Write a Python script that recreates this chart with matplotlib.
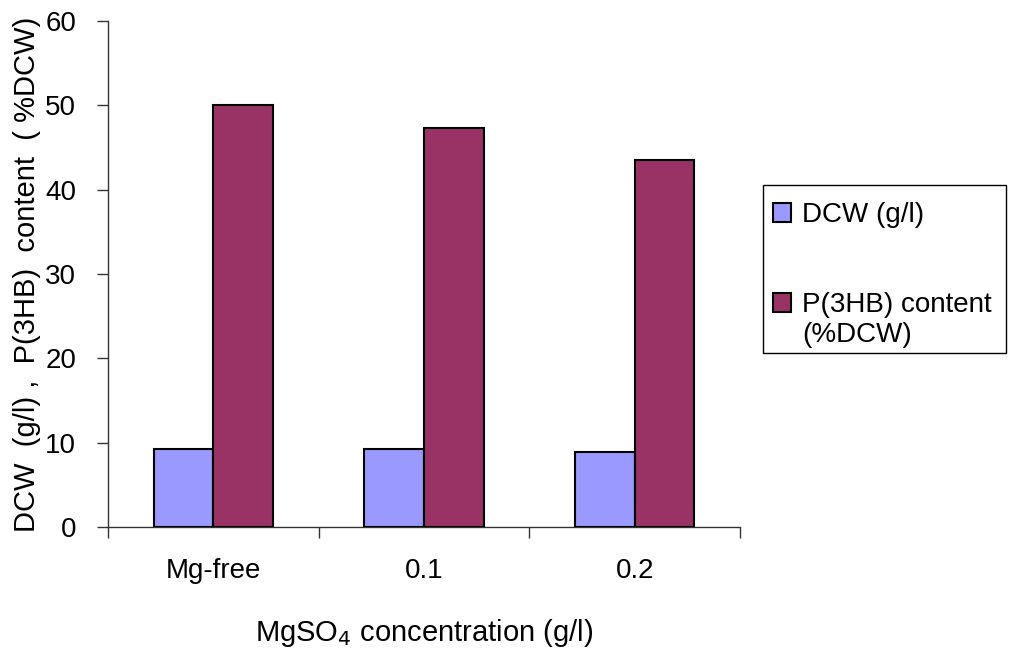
import matplotlib
matplotlib.use("Agg")
import matplotlib.pyplot as plt
from matplotlib.patches import Rectangle
import numpy as np

plt.rcParams['font.family'] = ['Liberation Sans', 'DejaVu Sans']

categories = ["Mg-free", "0.1", "0.2"]
dcw = [9.2, 9.2, 8.9]
p3hb = [50.0, 47.3, 43.5]
series_labels = ["DCW (g/l)", "P(3HB) content\n(%DCW)"]
series_colors = ["#9999FF", "#993366"]
yticks = [0, 10, 20, 30, 40, 50, 60]

W, H = 1010, 652
fig = plt.figure(figsize=(W / 100, H / 100), dpi=100)
ax = fig.add_axes([108 / W, 1 - 527 / H, (740 - 108) / W, (527 - 21) / H])

x = np.arange(len(categories))
w = 0.284
b1 = ax.bar(x - w / 2, dcw, width=w, color=series_colors[0], edgecolor="black",
            linewidth=1.5, label=series_labels[0], zorder=3)
b2 = ax.bar(x + w / 2, p3hb, width=w, color=series_colors[1], edgecolor="black",
            linewidth=1.5, label=series_labels[1], zorder=3)

ax.set_xlim(-0.5, len(categories) - 0.5)
ax.set_ylim(0, 60)
ax.set_yticks(yticks)
ax.set_yticklabels([str(t) for t in yticks], fontsize=20)

# category labels centred, tick marks on category boundaries
ax.set_xticks(np.arange(len(categories) + 1) - 0.5)
ax.set_xticklabels([])
ax.set_xticks(x, minor=True)
ax.set_xticklabels(categories, minor=True, fontsize=20)
ax.tick_params(axis="x", which="minor", length=0, pad=22)
ax.tick_params(axis="x", which="major", length=8, width=1, color="#333333", direction="out")
ax.tick_params(axis="y", length=8, width=1, color="#333333", direction="out", pad=15)

for s in ["top", "right"]:
    ax.spines[s].set_visible(False)
for s in ["left", "bottom"]:
    ax.spines[s].set_color("#333333")
    ax.spines[s].set_linewidth(1)

ax.set_ylabel("DCW  (g/l) ,  P(3HB)  content  ( %DCW)", fontsize=21, labelpad=3)
ax.set_xlabel("MgSO$_4$ concentration (g/l)", fontsize=21, labelpad=24)


# legend box drawn in figure pixel coordinates (origin top-left)
def px(xp, yp):
    return xp / W, 1 - yp / H


fx, fy = px(763, 353)
fig.patches.append(Rectangle((fx, fy), (1006 - 763) / W, (353 - 185) / H,
                             transform=fig.transFigure, facecolor="white",
                             edgecolor="black", linewidth=1, zorder=5))
entry_baselines = [222, 312]
for bars, label, base in zip([b1, b2], series_labels, entry_baselines):
    sx, sy = px(773, base)
    fig.patches.append(Rectangle((sx, sy), 18 / W, 19 / H, transform=fig.transFigure,
                                 facecolor=bars.patches[0].get_facecolor(),
                                 edgecolor="black", linewidth=1.5, zorder=6))
    for i, line in enumerate(label.split("\n")):
        tx, ty = px(802, base + 30 * i)
        fig.text(tx, ty, line, fontsize=20, ha="left", va="baseline", zorder=7)

fig.savefig("out.png", dpi=100)
